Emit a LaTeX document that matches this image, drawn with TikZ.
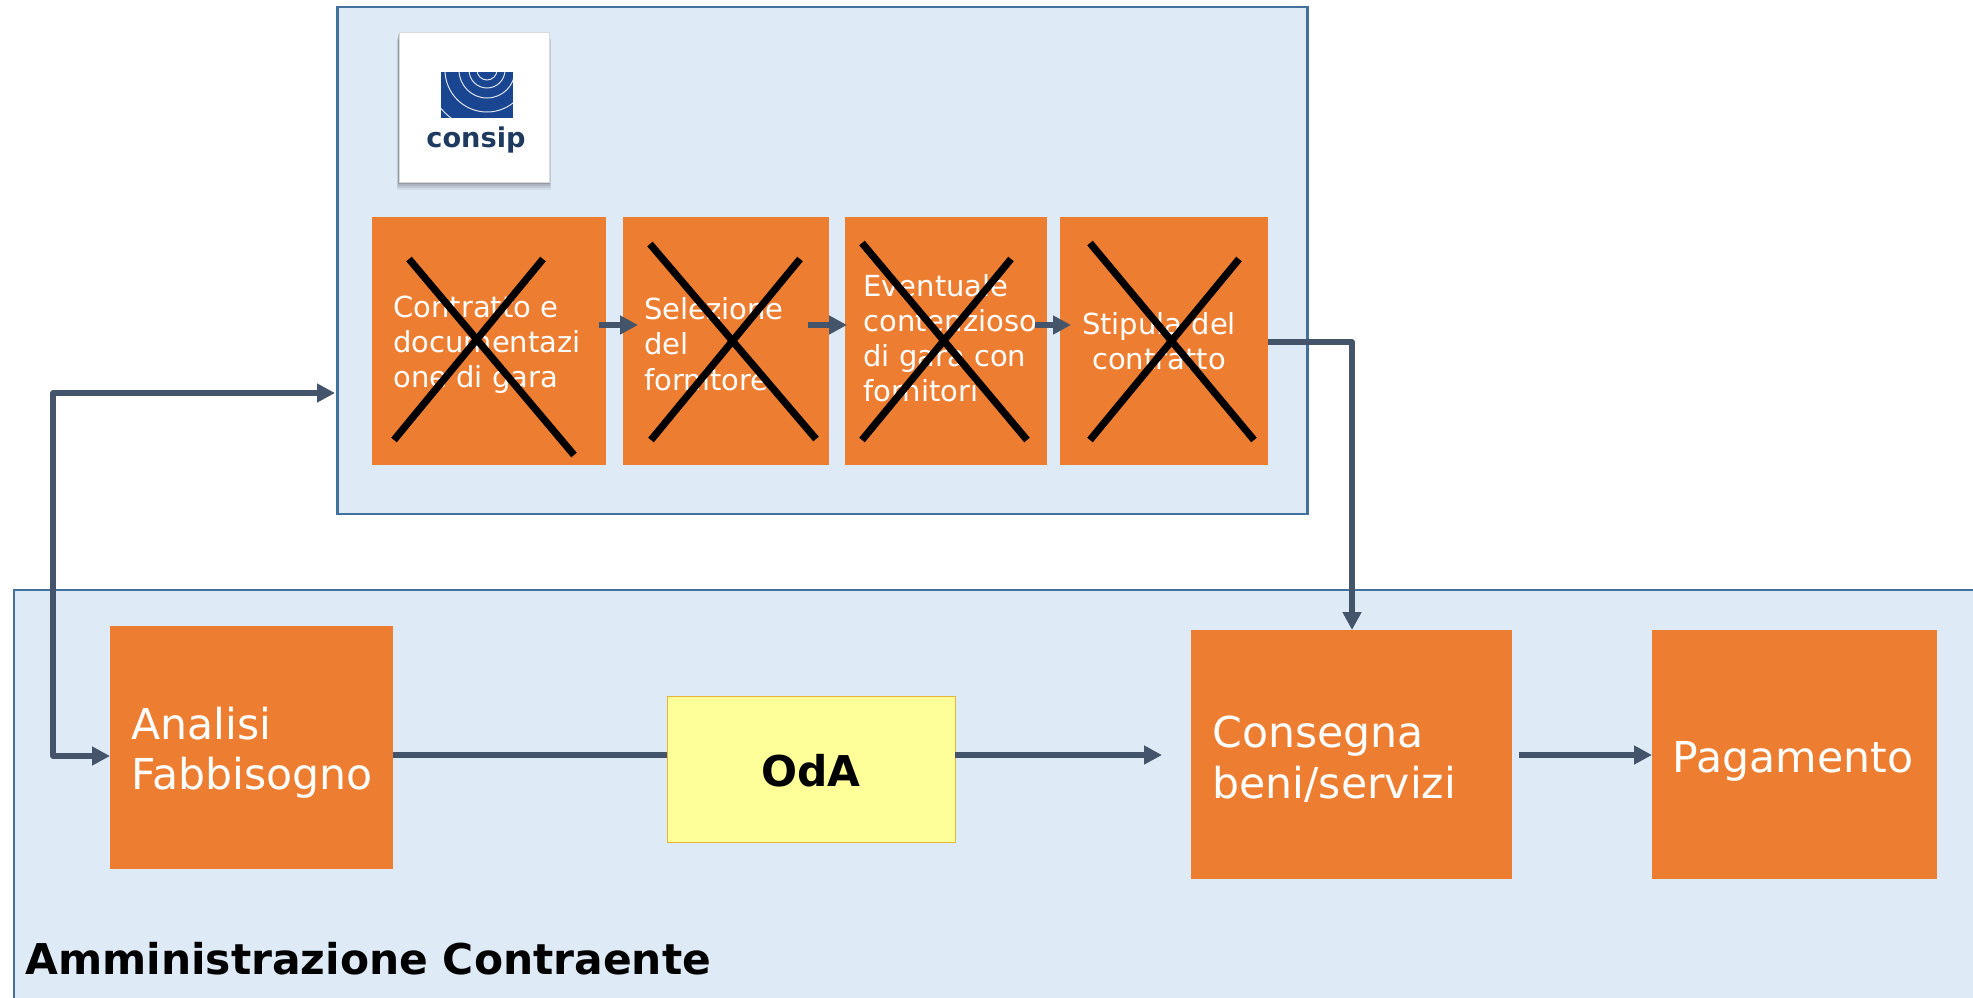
\documentclass[tikz,border=0pt]{standalone}
\usepackage{fontspec}
\setmainfont{DejaVu Sans}
\usetikzlibrary{arrows.meta}
\definecolor{panelfill}{HTML}{DEEAF6}
\definecolor{paneledge}{HTML}{41719C}
\definecolor{orangefill}{HTML}{ED7D31}
\definecolor{flowcol}{HTML}{44546A}
\definecolor{odafill}{HTML}{FFFF99}
\definecolor{odaedge}{HTML}{E8B43C}
\definecolor{logoblue}{HTML}{1A4590}
\definecolor{logotext}{HTML}{1F3A5F}
\tikzset{
  panel/.style={rectangle,draw=paneledge,fill=panelfill,line width=1.4pt,inner sep=0pt},
  orangebox/.style={rectangle,fill=orangefill,inner sep=0pt},
  smalltext/.style={text=white,inner sep=0pt,align=left,anchor=west,font=\fontsize{14.5}{17.6}\selectfont},
  bigtext/.style={text=white,inner sep=0pt,align=left,anchor=west,font=\fontsize{21.3}{25.2}\selectfont},
  flow/.style={draw=flowcol,line width=2.8pt,line join=round},
  tip/.style={-{Triangle[length=9pt,width=9pt]}},
  tiptwo/.style={{Triangle[length=9pt,width=9pt]}-{Triangle[length=9pt,width=9pt]}},
  crossline/.style={draw=black,line width=3.6pt},
}
\begin{document}
\begin{tikzpicture}[x=0.5pt,y=-0.5pt]
\useasboundingbox (0,0) rectangle (1973,997);
\clip (0,0) rectangle (1973,997);
% panels
\node[panel,minimum width=485pt,minimum height=253.5pt] (top) at (822.5,260.5) {};
\node[panel,minimum width=1000pt,minimum height=240pt,anchor=north west] (bottom) at (12.5,588.5) {};
% logo
\foreach \g/\o in {8/.06,6/.08,4/.10,2/.14}
  \fill[black,opacity=\o] (399-\g*.3,32+\g) rectangle (549+\g*.3,182+\g);
\node[rectangle,fill=white,draw=black!15,line width=.3pt,minimum width=75pt,minimum height=75pt,inner sep=0pt] (logo) at (474,107) {};
\begin{scope}
  \clip (441,72) rectangle (513,118);
  \fill[logoblue] (441,72) rectangle (513,118);
  \foreach \r in {5,9,14,21,30,40}
    \draw[white!85!logoblue,line width=.5pt] (487,70) circle (\r pt);
\end{scope}
\node[text=logotext,font=\bfseries\fontsize{13.6}{14}\selectfont,inner sep=0pt] (logotext) at (476,140) {consip};
% process boxes
\node[orangebox,minimum width=117pt,minimum height=124pt] (b1) at (489,341) {};
\node[orangebox,minimum width=103pt,minimum height=124pt] (b2) at (726,341) {};
\node[orangebox,minimum width=101pt,minimum height=124pt] (b3) at (946,341) {};
\node[orangebox,minimum width=104pt,minimum height=124pt] (b4) at (1164,341) {};
\node[smalltext] (t1) at (393,345) {Contratto e\\documentazi\\one di gara};
\node[smalltext] (t2) at (644,344) {Selezione\\del\\fornitore};
\node[smalltext] (t3) at (863,338) {Eventuale\\contenzioso\\di gara con\\fornitori};
\node[smalltext,anchor=center,align=center] (t4) at (1159,341) {Stipula del\\contratto};
\node[orangebox,minimum width=141.5pt,minimum height=121.5pt] (analisi) at (251.5,747.5) {};
\node[bigtext] (tanalisi) at (131,753) {Analisi\\Fabbisogno};
\node[rectangle,fill=odafill,draw=odaedge,line width=.5pt,minimum width=144pt,minimum height=73pt,font=\bfseries\fontsize{21.2}{26}\selectfont,inner sep=0pt,text depth=0pt,text height=17pt] (oda) at (811,769) {OdA};
\node[orangebox,minimum width=160.5pt,minimum height=124.5pt] (consegna) at (1351.5,754.5) {};
\node[bigtext] (tconsegna) at (1212,759) {Consegna\\beni/servizi};
\node[orangebox,minimum width=142.5pt,minimum height=124.5pt] (pagamento) at (1794.5,754.5) {};
\node[bigtext,anchor=center] (tpagamento) at (1793,761) {Pagamento};
\node[anchor=west,inner sep=0pt,font=\bfseries\fontsize{21.2}{26}\selectfont] (title) at (25,959) {Amministrazione Contraente};
% free ends
\coordinate (s1a) at (599,325); \coordinate (s1b) at (638,325);
\coordinate (s2a) at (808,325); \coordinate (s2b) at (847,325);
\coordinate (s3a) at (1035,325); \coordinate (s3b) at (1071,325);
\coordinate (loopTop) at (335,393); \coordinate (loopBot) at (110,756);
\coordinate (fromB4) at (1268,342); \coordinate (toCons) at (1352,630);
\coordinate (anaOut) at (393,755); \coordinate (odaIn) at (667,755);
\coordinate (odaOut) at (955,755); \coordinate (odaTip) at (1162,755);
\coordinate (consOut) at (1519,755); \coordinate (pagIn) at (1652,755);
% connectors
\draw[flow,tip] (s1a) -- (s1b);
\draw[flow,tip] (s2a) -- (s2b);
\draw[flow,tip] (s3a) -- (s3b);
\draw[flow,tiptwo] (loopTop) -- (53,393) -- (53,756) -- (loopBot);
\draw[flow,tip] (fromB4) -- (1352,342) -- (toCons);
\draw[flow] (anaOut) -- (odaIn);
\draw[flow,tip] (odaOut) -- (odaTip);
\draw[flow,tip] (consOut) -- (pagIn);
% strike-outs
\draw[crossline] (409,259) -- (574,455);
\draw[crossline] (543,259) -- (394,440);
\draw[crossline] (650,244) -- (816,439);
\draw[crossline] (800,259) -- (651,440);
\draw[crossline] (862,243) -- (1027,440);
\draw[crossline] (1011,259) -- (862,440);
\draw[crossline] (1090,243) -- (1254,440);
\draw[crossline] (1239,259) -- (1090,440);
\end{tikzpicture}
\end{document}
